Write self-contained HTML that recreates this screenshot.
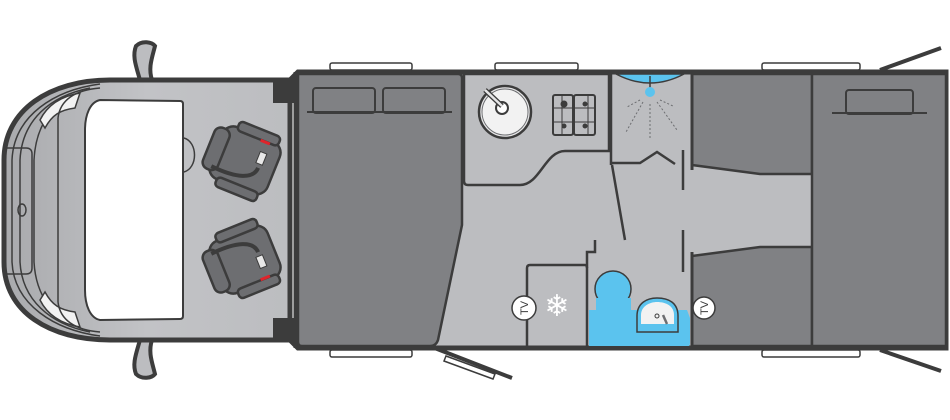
<!DOCTYPE html>
<html><head><meta charset="utf-8"><style>
html,body{margin:0;padding:0;background:#fff;width:950px;height:420px;overflow:hidden}
svg{display:block}
text{font-family:"Liberation Sans",sans-serif}
</style></head><body>
<svg width="950" height="420" viewBox="0 0 950 420" xmlns="http://www.w3.org/2000/svg">
<defs>
<linearGradient id="cab" x1="0" x2="1" y1="0" y2="0">
<stop offset="0" stop-color="#a9aaad"/><stop offset="0.5" stop-color="#c2c3c6"/><stop offset="1" stop-color="#bcbdc0"/>
</linearGradient>
</defs>
<!-- mirrors -->
<path d="M140 80 C136 66 132 56 136 46 C142 40 152 42 155 46 C152 58 148 68 152 80 Z" fill="#bcbdc0" stroke="#3c3c3c" stroke-width="4"/>
<path d="M140 340 C136 354 132 364 136 374 C142 380 152 378 155 374 C152 362 148 352 152 340 Z" fill="#bcbdc0" stroke="#3c3c3c" stroke-width="4"/>
<!-- cab -->
<path d="M290 80 L110 80 C50 80 4 110 4 160 L4 262 C4 312 50 340 110 340 L290 340 Z" fill="url(#cab)" stroke="#3c3c3c" stroke-width="5"/>
<path d="M100 84 C55 90 14 115 12 160 L12 262 C14 305 55 330 100 336" fill="none" stroke="#3c3c3c" stroke-width="1.5"/>
<path d="M90 88 C50 96 22 120 20 160 L20 262 C22 300 50 324 90 332" fill="none" stroke="#3c3c3c" stroke-width="1.5"/>
<path d="M78 94 C55 102 36 122 34 160 L34 262 C36 298 55 318 78 326" fill="none" stroke="#3c3c3c" stroke-width="1.5"/>
<path d="M5 148 L26 148 Q32 148 32 154 L32 268 Q32 274 26 274 L5 274" fill="none" stroke="#3c3c3c" stroke-width="1.5"/>
<ellipse cx="22" cy="210" rx="4" ry="6" fill="none" stroke="#3c3c3c" stroke-width="1.5"/>
<path d="M40 120 C48 104 62 96 80 93 L75 108 C60 110 52 115 45 128 Z" fill="#f2f2f2" stroke="#3c3c3c" stroke-width="1.5"/>
<path d="M40 300 C48 316 62 324 80 327 L75 312 C60 310 52 305 45 292 Z" fill="#f2f2f2" stroke="#3c3c3c" stroke-width="1.5"/>
<path d="M58 118 C60 100 75 90 100 88" fill="none" stroke="#3c3c3c" stroke-width="1.5"/>
<path d="M58 302 C60 320 75 330 100 332" fill="none" stroke="#3c3c3c" stroke-width="1.5"/>
<path d="M58 118 L58 302" stroke="#3c3c3c" stroke-width="1.5"/>
<!-- windscreen -->
<path d="M100 100 L180 101 Q183 101 183 104 L183 316 Q183 319 180 319 L100 320 C90 318 85 305 85 290 L85 130 C85 115 90 102 100 100 Z" fill="#fff" stroke="#3c3c3c" stroke-width="2"/>
<path d="M184 138 C198 142 198 168 184 172" fill="none" stroke="#3c3c3c" stroke-width="1.5"/>
<!-- dark blocks -->
<rect x="273" y="80" width="22" height="23" fill="#3c3c3c"/>
<rect x="273" y="318" width="22" height="22" fill="#3c3c3c"/>
<!-- seats -->
<g transform="translate(244,160) rotate(22)">
<rect x="-30" y="-28" width="62" height="56" rx="12" fill="#6d6e71" stroke="#3c3c3c" stroke-width="2.5"/>
<rect x="-38" y="-22" width="16" height="44" rx="7" fill="#6d6e71" stroke="#3c3c3c" stroke-width="2.5"/>
<rect x="-18" y="-35" width="44" height="10" rx="4" fill="#6d6e71" stroke="#3c3c3c" stroke-width="2.5"/>
<rect x="-18" y="25" width="44" height="10" rx="4" fill="#6d6e71" stroke="#3c3c3c" stroke-width="2.5"/>
<path d="M-28 18 C0 20 16 14 16 2" fill="none" stroke="#3c3c3c" stroke-width="4"/>
<rect x="12" y="-14" width="7" height="12" fill="#e8e8e8" stroke="#3c3c3c" stroke-width="1"/>
<rect x="8" y="-26" width="10" height="3" fill="#e0242b"/>
</g>
<g transform="translate(244,260) rotate(-22) scale(1,-1)">
<rect x="-30" y="-28" width="62" height="56" rx="12" fill="#6d6e71" stroke="#3c3c3c" stroke-width="2.5"/>
<rect x="-38" y="-22" width="16" height="44" rx="7" fill="#6d6e71" stroke="#3c3c3c" stroke-width="2.5"/>
<rect x="-18" y="-35" width="44" height="10" rx="4" fill="#6d6e71" stroke="#3c3c3c" stroke-width="2.5"/>
<rect x="-18" y="25" width="44" height="10" rx="4" fill="#6d6e71" stroke="#3c3c3c" stroke-width="2.5"/>
<path d="M-28 18 C0 20 16 14 16 2" fill="none" stroke="#3c3c3c" stroke-width="4"/>
<rect x="12" y="-14" width="7" height="12" fill="#e8e8e8" stroke="#3c3c3c" stroke-width="1"/>
<rect x="8" y="-26" width="10" height="3" fill="#e0242b"/>
</g>
<!-- body -->
<path d="M295 72 L946 72 L946 348 L295 348 Z" fill="#bcbdc0"/>
<path d="M290 80 L298 72 L946 72 L946 348 L298 348 L290 340" fill="none" stroke="#3c3c3c" stroke-width="5"/>
<line x1="296" y1="72" x2="296" y2="348" stroke="#3c3c3c" stroke-width="5"/>
<!-- front double bed -->
<path d="M298 74 L458 74 Q462 74 462 78 L462 225 L438 340 Q436 346 430 346 L302 346 Q298 346 298 342 Z" fill="#808184" stroke="#3c3c3c" stroke-width="2.5"/>
<rect x="313" y="88" width="62" height="25" rx="3" fill="#808184" stroke="#3c3c3c" stroke-width="2"/>
<rect x="383" y="88" width="62" height="25" rx="3" fill="#808184" stroke="#3c3c3c" stroke-width="2"/>
<line x1="307" y1="112" x2="452" y2="112" stroke="#3c3c3c" stroke-width="2"/>
<!-- kitchen -->
<path d="M464 74 L609 74 L609 151 L565 151 C545 151 540 185 520 185 L468 185 Q464 185 464 181 Z" fill="#bcbdc0" stroke="#3c3c3c" stroke-width="2.5"/>
<circle cx="505" cy="112" r="26" fill="#e6e6e7" stroke="#3c3c3c" stroke-width="2.5"/>
<circle cx="505" cy="112" r="23" fill="#f2f2f2" stroke="#6d6e71" stroke-width="1"/>
<circle cx="502" cy="108" r="6" fill="#fff" stroke="#3c3c3c" stroke-width="2"/>
<line x1="502" y1="106" x2="485" y2="90" stroke="#3c3c3c" stroke-width="5"/>
<line x1="502" y1="106" x2="485" y2="90" stroke="#e6e6e7" stroke-width="2.5"/>
<rect x="553" y="95" width="20" height="40" rx="2" fill="none" stroke="#3c3c3c" stroke-width="2"/>
<rect x="574" y="95" width="21" height="40" rx="2" fill="none" stroke="#3c3c3c" stroke-width="2"/>
<path d="M553 108 H595 M553 122 H595 M562 95 V135 M588 95 V135" stroke="#3c3c3c" stroke-width="1"/>
<circle cx="564" cy="104" r="3.5" fill="#3c3c3c"/><circle cx="585" cy="104" r="2.5" fill="#3c3c3c"/>
<circle cx="564" cy="126" r="2.5" fill="#3c3c3c"/><circle cx="585" cy="126" r="2.5" fill="#3c3c3c"/>
<!-- shower -->
<line x1="611" y1="74" x2="611" y2="165" stroke="#3c3c3c" stroke-width="2.5"/>
<path d="M616 74 Q650 92 684 74 Z" fill="#5bc3ee" stroke="#3c3c3c" stroke-width="1.5"/>
<line x1="650" y1="76" x2="650" y2="88" stroke="#3c3c3c" stroke-width="1.5"/>
<circle cx="650" cy="92" r="5" fill="#5bc3ee"/>
<g stroke="#6d6e71" stroke-width="1" stroke-dasharray="2,2">
<line x1="650" y1="104" x2="650" y2="140"/><line x1="643" y1="102" x2="626" y2="132"/>
<line x1="657" y1="102" x2="677" y2="130"/><line x1="640" y1="100" x2="627" y2="107"/><line x1="660" y1="100" x2="673" y2="106"/>
</g>
<path d="M611 163 L640 163 L657 152 L675 164" fill="none" stroke="#3c3c3c" stroke-width="2.5"/>
<line x1="612" y1="165" x2="625" y2="240" stroke="#3c3c3c" stroke-width="2.5"/>
<line x1="683" y1="150" x2="683" y2="190" stroke="#3c3c3c" stroke-width="2.5"/>
<line x1="683" y1="230" x2="683" y2="272" stroke="#3c3c3c" stroke-width="2.5"/>
<!-- bathroom -->
<path d="M589 310 L687 310 L690 318 L690 342 Q690 348 684 348 L589 348 Z" fill="#5bc3ee"/>
<path d="M595 240 L595 252 L587 252 L587 348" fill="none" stroke="#3c3c3c" stroke-width="2.5"/>
<ellipse cx="613" cy="289" rx="18" ry="18" fill="#5bc3ee" stroke="#3c3c3c" stroke-width="1.5"/>
<rect x="596" y="298" width="35" height="12" fill="#5bc3ee"/>
<path d="M637 332 L637 316 C637 303 647 298 657 298 C669 298 678 303 678 316 L678 332 Z" fill="#5bc3ee" stroke="#3c3c3c" stroke-width="1.5"/>
<path d="M641 324 L641 315 C641 306 650 302 657 302 C666 302 674 306 674 315 L674 324 Z" fill="#f2f2f2"/>
<circle cx="657" cy="316" r="2" fill="none" stroke="#3c3c3c"/>
<line x1="667" y1="324" x2="663" y2="315" stroke="#6d6e71" stroke-width="2.5"/>
<!-- fridge -->
<path d="M527 348 L527 268 Q527 265 530 265 L585 265 Q587 265 587 268" fill="none" stroke="#3c3c3c" stroke-width="2.5"/>
<text x="557" y="316" font-size="30" fill="#fff" text-anchor="middle" font-family="DejaVu Sans,sans-serif">❄</text>
<line x1="522" y1="348" x2="690" y2="348" stroke="#3c3c3c" stroke-width="4"/>
<!-- right twin beds -->
<path d="M692 74 L812 74 L812 174 L760 174 L692 165 Z" fill="#808184" stroke="#3c3c3c" stroke-width="2.5"/>
<path d="M692 256 L760 247 L812 247 L812 346 L692 346 Z" fill="#808184" stroke="#3c3c3c" stroke-width="2.5"/>
<line x1="692" y1="74" x2="692" y2="170" stroke="#3c3c3c" stroke-width="3"/>
<line x1="692" y1="252" x2="692" y2="346" stroke="#3c3c3c" stroke-width="3"/>
<rect x="812" y="74" width="134" height="272" fill="#808184" stroke="#3c3c3c" stroke-width="2.5"/>
<rect x="846" y="90" width="67" height="24" rx="3" fill="#808184" stroke="#3c3c3c" stroke-width="2"/>
<line x1="832" y1="113" x2="927" y2="113" stroke="#3c3c3c" stroke-width="2"/>
<!-- TV -->
<g font-size="11" text-anchor="middle">
<circle cx="524" cy="308" r="12" fill="#fff" stroke="#3c3c3c" stroke-width="1.5"/>
<text transform="translate(528,308) rotate(-90)" fill="#3c3c3c">TV</text>
<circle cx="704" cy="308" r="11" fill="#fff" stroke="#3c3c3c" stroke-width="1.5"/>
<text transform="translate(708,308) rotate(-90)" fill="#3c3c3c">TV</text>
</g>
<!-- windows -->
<g fill="#fff" stroke="#3c3c3c" stroke-width="1.5">
<rect x="330" y="63" width="82" height="7" rx="2"/><rect x="495" y="63" width="83" height="7" rx="2"/><rect x="762" y="63" width="98" height="7" rx="2"/>
<rect x="330" y="350" width="82" height="7" rx="2"/><rect x="762" y="350" width="98" height="7" rx="2"/>
</g>
<!-- doors -->
<line x1="432" y1="347" x2="512" y2="378" stroke="#3c3c3c" stroke-width="4"/>
<polygon points="446,356 495,374 493,379 444,361" fill="#fff" stroke="#3c3c3c" stroke-width="1.5"/>
<line x1="880" y1="70" x2="941" y2="48" stroke="#3c3c3c" stroke-width="4"/>
<line x1="880" y1="350" x2="941" y2="371" stroke="#3c3c3c" stroke-width="4"/>
</svg>
</body></html>
